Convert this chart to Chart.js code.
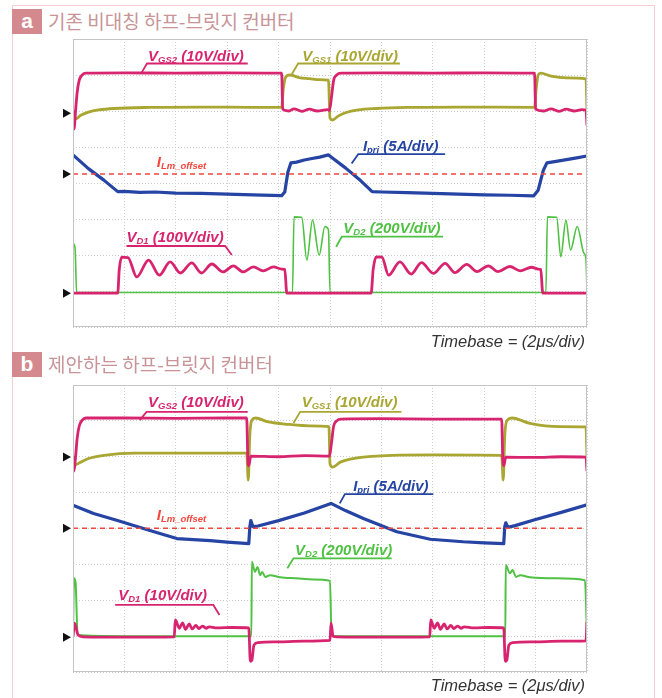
<!DOCTYPE html>
<html>
<head>
<meta charset="utf-8">
<script src="https://cdn.jsdelivr.net/npm/chart.js@4.4.0/dist/chart.umd.min.js"></script>
<style>
body{margin:0;background:#fff;width:662px;height:698px;position:relative;overflow:hidden;font-family:'Liberation Sans',Arial,sans-serif}
.frame{position:absolute;left:12px;top:5px;width:641px;height:720px;border:1px solid #f2cfd5}
.tag{position:absolute;left:12px;width:30px;height:25px;background:#d4898f;color:#fff;font:bold 21px 'Liberation Sans';text-align:center;line-height:24px}
.head{position:absolute;left:48px;font:19px 'Noto Sans CJK KR';color:#c89498;line-height:26px}
.tb{position:absolute;right:77px;font:italic 16.5px 'Liberation Sans';color:#333}
canvas{position:absolute}
</style>
</head>
<body>
<div class="frame"></div>
<div class="tag" style="top:9px">a</div>
<div class="head" style="top:8px">기존 비대칭 하프-브릿지 컨버터</div>
<canvas id="chartA" width="550" height="306" style="left:50px;top:30px"></canvas>
<div class="tb" style="top:332px">Timebase = (2μs/div)</div>
<div class="tag" style="top:352px">b</div>
<div class="head" style="top:351px">제안하는 하프-브릿지 컨버터</div>
<canvas id="chartB" width="550" height="305" style="left:50px;top:376px"></canvas>
<div class="tb" style="top:676px">Timebase = (2μs/div)</div>
<script>
// colours of the scope channels
const mag = "#d8246f";
const olive = "#a9a632";
const blue = "#2544a3";
const green = "#4fc143";
const red = "#f2463e";

// (a) 기존 비대칭 하프-브릿지 : [time div, level div]
const aVgs2 = [[0,6.02],[0.02,5.5],[0.05,6.0],[0.08,6.5],[0.12,6.85],[0.18,7.0],[0.25,7.05],[1,7.06],[2,7.05],[3,7.06],[4.06,7.05],[4.08,6.05],[4.2,6.0],[4.3,6.06],[4.45,5.99],[4.6,6.05],[4.75,6.0],[4.95,6.04],[4.99,6.02],[5.03,6.4],[5.07,6.85],[5.13,7.0],[5.22,7.05],[6,7.06],[7,7.05],[8,7.06],[8.98,7.05],[9.0,6.05],[9.15,6.0],[9.3,6.06],[9.45,5.99],[9.6,6.05],[9.75,6.0],[9.9,6.04],[9.98,6.02],[10,5.6]];
const aVgs1 = [[0,5.85],[0.05,5.78],[0.15,5.88],[0.3,5.97],[0.5,6.03],[0.8,6.07],[1.5,6.1],[2.5,6.11],[3.5,6.1],[4.06,6.1],[4.09,6.6],[4.14,6.95],[4.22,7.0],[4.4,6.93],[4.6,6.9],[4.8,6.87],[4.97,6.86],[5.0,5.8],[5.05,5.75],[5.15,5.85],[5.3,5.95],[5.55,6.03],[5.9,6.07],[6.5,6.1],[7.5,6.11],[8.98,6.1],[9.01,6.6],[9.05,7.0],[9.1,7.05],[9.3,6.97],[9.6,6.92],[9.98,6.89],[10,6.0]];
const aIpri = [[0,4.78],[0.3,4.4],[0.6,4.08],[0.87,3.76],[1.0,3.77],[1.3,3.74],[1.6,3.75],[2,3.72],[2.5,3.71],[3,3.69],[3.5,3.67],[4.06,3.65],[4.12,3.75],[4.18,4.3],[4.24,4.56],[4.35,4.58],[4.5,4.64],[4.65,4.68],[4.8,4.72],[4.97,4.78],[5.3,4.42],[5.6,4.06],[5.82,3.76],[6,3.75],[6.5,3.73],[7,3.71],[7.5,3.69],[8,3.67],[8.5,3.66],[8.96,3.64],[9.05,3.8],[9.15,4.35],[9.22,4.56],[9.4,4.6],[9.6,4.65],[9.8,4.7],[10,4.75]];
const aOffset = [[0,4.25],[10,4.25]];
const aVd1 = [[0,0.94],[0.87,0.94],[0.9,1.6],[0.95,1.94],[1.07,1.93],[1.24,1.39],[1.47,1.86],[1.68,1.44],[1.89,1.81],[2.09,1.5],[2.31,1.78],[2.5,1.5],[2.7,1.75],[2.92,1.53],[3.12,1.7],[3.31,1.53],[3.51,1.67],[3.7,1.56],[3.9,1.67],[4.06,1.61],[4.12,1.6],[4.16,0.94],[5.8,0.94],[5.84,1.6],[5.9,1.95],[6.01,1.94],[6.14,1.44],[6.36,1.81],[6.58,1.47],[6.78,1.79],[7.01,1.49],[7.24,1.77],[7.43,1.51],[7.66,1.74],[7.86,1.54],[8.08,1.7],[8.27,1.54],[8.5,1.68],[8.7,1.56],[8.92,1.66],[9.05,1.61],[9.1,1.6],[9.14,0.94],[10,0.94]];
const aVd2 = [[0,2.33],[0.04,2.2],[0.07,0.96],[4.27,0.96],[4.3,3.06],[4.45,3.05],[4.55,1.86],[4.66,2.97],[4.79,2.0],[4.9,2.79],[4.97,2.7],[5.0,0.96],[9.2,0.96],[9.23,3.06],[9.41,3.05],[9.49,1.95],[9.59,2.97],[9.68,2.14],[9.81,2.79],[9.94,2.05],[9.98,1.9],[10,0.96]];

// (b) 제안하는 하프-브릿지
const bVgs2 = [[0,6.02],[0.02,5.6],[0.05,6.0],[0.08,6.5],[0.12,6.85],[0.18,7.02],[0.25,7.08],[1,7.08],[2,7.07],[3,7.08],[3.38,7.08],[3.4,6.0],[3.42,5.75],[3.46,6.02],[4,6.0],[4.5,6.03],[4.99,6.02],[5.03,6.4],[5.07,6.85],[5.13,7.0],[5.22,7.05],[6,7.06],[7,7.05],[8.34,7.05],[8.36,6.0],[8.38,5.75],[8.42,5.99],[9,5.98],[9.5,6.0],[9.98,5.99],[10,5.6]];
const bVgs1 = [[0,5.85],[0.05,5.78],[0.15,5.85],[0.3,5.95],[0.6,6.04],[1.2,6.1],[2,6.1],[3.38,6.1],[3.41,5.35],[3.44,6.6],[3.48,7.02],[3.55,7.08],[3.8,6.97],[4.2,6.9],[4.6,6.86],[4.98,6.84],[5.0,5.8],[5.05,5.71],[5.2,5.85],[5.5,5.96],[6.2,6.04],[7,6.05],[8.34,6.04],[8.37,5.35],[8.4,6.6],[8.45,7.02],[8.54,7.08],[8.89,6.93],[9.47,6.84],[9.98,6.83],[10,6.0]];
const bIpri = [[0,4.65],[0.4,4.42],[0.85,4.23],[1.37,4.0],[1.69,3.86],[2.02,3.72],[2.67,3.66],[3.0,3.62],[3.42,3.58],[3.44,4.05],[3.46,4.22],[3.5,4.05],[3.6,4.07],[4.0,4.22],[4.5,4.43],[5.02,4.7],[5.3,4.5],[5.65,4.28],[6.3,3.91],[6.95,3.7],[7.59,3.63],[8.0,3.6],[8.38,3.58],[8.4,4.05],[8.42,4.16],[8.46,4.03],[8.6,4.08],[9.0,4.25],[9.5,4.45],[10,4.66]];
const bOffset = [[0,4.01],[10,4.01]];
const bVd1 = [[0,0.98],[0.03,1.36],[0.1,1.03],[0.2,0.98],[1,0.97],[1.97,0.98],[1.99,1.45],[2.07,1.22],[2.13,1.37],[2.19,1.19],[2.26,1.34],[2.32,1.2],[2.39,1.3],[2.45,1.21],[2.52,1.28],[2.59,1.22],[2.65,1.26],[2.8,1.23],[3.1,1.24],[3.42,1.23],[3.45,0.3],[3.48,0.33],[3.52,0.75],[3.6,0.82],[4.0,0.84],[4.5,0.86],[5.0,0.88],[5.02,1.36],[5.06,1.0],[5.13,0.98],[6,0.97],[6.94,0.98],[6.96,1.45],[7.03,1.22],[7.09,1.37],[7.15,1.19],[7.22,1.34],[7.28,1.2],[7.35,1.3],[7.41,1.21],[7.48,1.28],[7.55,1.22],[7.61,1.26],[7.8,1.23],[8.1,1.24],[8.38,1.23],[8.41,0.3],[8.44,0.33],[8.48,0.75],[8.56,0.82],[9,0.84],[9.5,0.86],[9.98,0.87],[10,1.4]];
const bVd2 = [[0,1.0],[0.02,2.61],[0.05,2.5],[0.09,1.03],[1,1.0],[2,1.0],[3,1.0],[3.47,1.0],[3.48,3.07],[3.54,2.79],[3.59,2.93],[3.64,2.7],[3.68,2.79],[3.74,2.65],[3.83,2.7],[4.03,2.64],[4.35,2.61],[4.68,2.58],[5.0,2.54],[5.03,1.0],[8.41,1.0],[8.42,2.98],[8.5,2.75],[8.55,2.84],[8.62,2.65],[8.7,2.7],[8.89,2.64],[9.41,2.61],[9.96,2.56],[10,1.0]];

// ground markers (level in div)
const aGround = [5.94, 4.25, 0.94];
const bGround = [5.99, 4.01, 0.97];

// channel labels: anchor and leader line in div coordinates
const aNotes = [
  {x:1.46, y:7.39, main:'V', sub:'GS2', rest:' (10V/div)', color:mag, line:[[1.34,7.08],[1.44,7.32],[3.4,7.32]]},
  {x:4.46, y:7.39, main:'V', sub:'GS1', rest:' (10V/div)', color:olive, line:[[4.26,7.03],[4.38,7.32],[6.36,7.32]]},
  {x:1.63, y:4.45, main:'I', sub:'Lm_offset', rest:'', color:red, line:null},
  {x:5.64, y:4.89, main:'I', sub:'pri', rest:' (5A/div)', color:blue, line:[[5.42,4.54],[5.55,4.8],[7.24,4.8]]},
  {x:1.04, y:2.36, main:'V', sub:'D1', rest:' (100V/div)', color:mag, line:[[1.04,2.25],[2.96,2.25],[3.09,2.0]]},
  {x:5.26, y:2.61, main:'V', sub:'D2', rest:' (200V/div)', color:green, line:[[5.12,2.23],[5.23,2.51],[7.2,2.51]]}
];
const bNotes = [
  {x:1.46, y:7.38, main:'V', sub:'GS2', rest:' (10V/div)', color:mag, line:[[1.3,7.02],[1.43,7.25],[3.4,7.25]]},
  {x:4.45, y:7.38, main:'V', sub:'GS1', rest:' (10V/div)', color:olive, line:[[4.29,6.94],[4.42,7.25],[6.39,7.25]]},
  {x:5.45, y:5.04, main:'I', sub:'pri', rest:' (5A/div)', color:blue, line:[[5.19,4.7],[5.29,4.96],[7.01,4.96]]},
  {x:1.63, y:4.23, main:'I', sub:'Lm_offset', rest:'', color:red, line:null},
  {x:4.32, y:3.26, main:'V', sub:'D2', rest:' (200V/div)', color:green, line:[[4.17,2.89],[4.29,3.17],[6.2,3.17]]},
  {x:0.88, y:2.0, main:'V', sub:'D1', rest:' (10V/div)', color:mag, line:[[0.82,1.87],[2.73,1.87],[2.85,1.59]]}
];

function pts(arr) { return arr.map(p => ({x: p[0], y: p[1]})); }

function trace(label, arr, color, width, dash, smooth) {
  return {label: label, data: pts(arr), borderColor: color, borderWidth: width,
    borderDash: dash || [], pointRadius: 0, tension: 0,
    cubicInterpolationMode: smooth ? 'monotone' : 'default',
    borderJoinStyle: 'round', fill: false};
}

// text, leaders, ground arrows and frame
const scopeOverlay = {
  id: 'scopeOverlay',
  afterDatasetsDraw(chart, args, opts) {
    const {ctx, chartArea: ca} = chart;
    const xs = chart.scales.x, ys = chart.scales.y;
    ctx.save();
    ctx.strokeStyle = '#c4c4c4';
    ctx.lineWidth = 1;
    ctx.setLineDash([]);
    ctx.strokeRect(ca.left + 0.5, ca.top + 0.5, ca.width - 1, ca.height - 1);
    // ground arrows
    ctx.fillStyle = '#111';
    opts.ground.forEach(g => {
      const py = ys.getPixelForValue(g);
      ctx.beginPath();
      ctx.moveTo(ca.left - 10, py - 4.5);
      ctx.lineTo(ca.left - 2, py);
      ctx.lineTo(ca.left - 10, py + 4.5);
      ctx.closePath();
      ctx.fill();
    });
    opts.notes.forEach(n => {
      if (n.line) {
        ctx.strokeStyle = n.color;
        ctx.lineWidth = 1.8;
        ctx.beginPath();
        n.line.forEach((p, i) => {
          const px = xs.getPixelForValue(p[0]), py = ys.getPixelForValue(p[1]);
          if (i === 0) ctx.moveTo(px, py); else ctx.lineTo(px, py);
        });
        ctx.stroke();
      }
      let px = xs.getPixelForValue(n.x);
      const py = ys.getPixelForValue(n.y);
      ctx.fillStyle = n.color;
      ctx.textBaseline = 'alphabetic';
      ctx.font = 'bold italic 15px "Liberation Sans"';
      ctx.fillText(n.main, px, py);
      px += ctx.measureText(n.main).width;
      ctx.font = 'bold italic 9.5px "Liberation Sans"';
      ctx.fillText(n.sub, px, py + 2);
      px += ctx.measureText(n.sub).width;
      ctx.font = 'bold italic 15px "Liberation Sans"';
      ctx.fillText(n.rest, px, py);
    });
    ctx.restore();
  }
};

function makeScope(id, sets, ground, notes) {
  const ctx = document.getElementById(id).getContext('2d');
  return new Chart(ctx, {
    type: 'line',
    data: {datasets: sets},
    options: {
      responsive: false,
      animation: false,
      layout: {padding: {left: 23, right: 13, top: 9, bottom: 9}},
      plugins: {legend: {display: false}, tooltip: {enabled: false},
        scopeOverlay: {ground: ground, notes: notes}},
      scales: {
        x: {type: 'linear', min: 0, max: 10,
          ticks: {display: false, stepSize: 1},
          grid: {color: '#cdcdcd', drawTicks: false},
          border: {display: false, dash: [1, 2]}},
        y: {type: 'linear', min: 0, max: 8,
          ticks: {display: false, stepSize: 1},
          grid: {color: '#cdcdcd', drawTicks: false},
          border: {display: false, dash: [1, 2]}}
      }
    },
    plugins: [scopeOverlay]
  });
}

makeScope('chartA', [
  trace('ILm_offset', aOffset, red, 1.5, [5, 4], false),
  trace('VD1', aVd1, mag, 2.8, null, true),
  trace('VD2', aVd2, green, 1.6, null, true),
  trace('Ipri', aIpri, blue, 3.2, null, false),
  trace('VGS2', aVgs2, mag, 2.8, null, true),
  trace('VGS1', aVgs1, olive, 2.8, null, true)
], aGround, aNotes);

makeScope('chartB', [
  trace('ILm_offset', bOffset, red, 1.5, [5, 4], false),
  trace('VD1', bVd1, mag, 2.8, null, true),
  trace('VD2', bVd2, green, 2, null, true),
  trace('Ipri', bIpri, blue, 3.2, null, false),
  trace('VGS2', bVgs2, mag, 2.8, null, true),
  trace('VGS1', bVgs1, olive, 2.8, null, true)
], bGround, bNotes);
</script>
</body>
</html>
